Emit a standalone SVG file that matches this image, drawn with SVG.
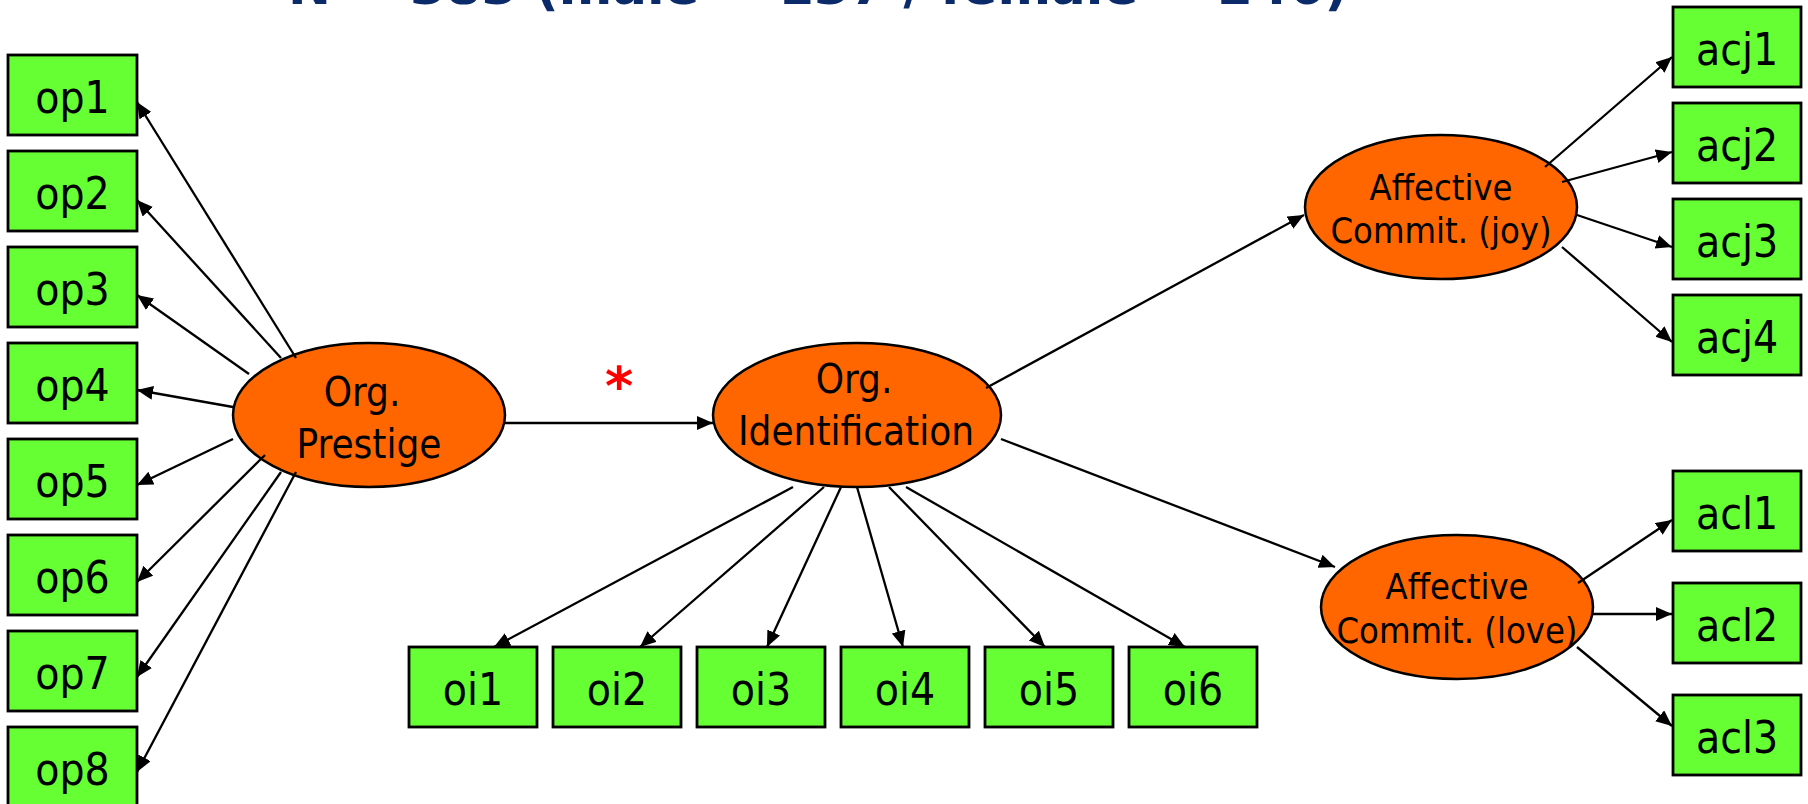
<svg xmlns="http://www.w3.org/2000/svg" width="1808" height="804" viewBox="0 0 1808 804">
<defs>
<style>
.box{fill:#66FF33;stroke:#000;stroke-width:2.8}
.lat{fill:#FF6600;stroke:#000;stroke-width:2.5}
.bt{font-family:"DejaVu Sans Condensed","DejaVu Sans",sans-serif;font-size:44px;fill:#000;text-anchor:middle}
.lt{font-family:"DejaVu Sans Condensed","DejaVu Sans",sans-serif;font-size:40px;fill:#000;text-anchor:middle}
.st{font-family:"DejaVu Sans Condensed","DejaVu Sans",sans-serif;font-size:36px;fill:#000;text-anchor:middle}
.c line{stroke:#000;stroke-width:2.3;marker-end:url(#ah)}
</style>
<marker id="ah" markerUnits="userSpaceOnUse" markerWidth="17" markerHeight="15" refX="16" refY="7" orient="auto">
<path d="M0,0 L16,7 L0,14 z" fill="#000"/>
</marker>
</defs>
<rect width="1808" height="804" fill="#fff"/>
<text x="288" y="4" font-family="DejaVu Sans,sans-serif" font-weight="bold" font-size="51" fill="#0B2A6A" textLength="1060" lengthAdjust="spacingAndGlyphs">N = 383 (male = 137 / female = 246)</text>

<g id="op1"><rect class="box" x="8" y="55" width="129" height="80"/><text class="bt" x="72.5" y="113">op1</text></g>
<g id="op2"><rect class="box" x="8" y="151" width="129" height="80"/><text class="bt" x="72.5" y="209">op2</text></g>
<g id="op3"><rect class="box" x="8" y="247" width="129" height="80"/><text class="bt" x="72.5" y="305">op3</text></g>
<g id="op4"><rect class="box" x="8" y="343" width="129" height="80"/><text class="bt" x="72.5" y="401">op4</text></g>
<g id="op5"><rect class="box" x="8" y="439" width="129" height="80"/><text class="bt" x="72.5" y="497">op5</text></g>
<g id="op6"><rect class="box" x="8" y="535" width="129" height="80"/><text class="bt" x="72.5" y="593">op6</text></g>
<g id="op7"><rect class="box" x="8" y="631" width="129" height="80"/><text class="bt" x="72.5" y="689">op7</text></g>
<g id="op8"><rect class="box" x="8" y="727" width="129" height="80"/><text class="bt" x="72.5" y="785">op8</text></g>

<g id="oi1"><rect class="box" x="409" y="647" width="128" height="80"/><text class="bt" x="473" y="705">oi1</text></g>
<g id="oi2"><rect class="box" x="553" y="647" width="128" height="80"/><text class="bt" x="617" y="705">oi2</text></g>
<g id="oi3"><rect class="box" x="697" y="647" width="128" height="80"/><text class="bt" x="761" y="705">oi3</text></g>
<g id="oi4"><rect class="box" x="841" y="647" width="128" height="80"/><text class="bt" x="905" y="705">oi4</text></g>
<g id="oi5"><rect class="box" x="985" y="647" width="128" height="80"/><text class="bt" x="1049" y="705">oi5</text></g>
<g id="oi6"><rect class="box" x="1129" y="647" width="128" height="80"/><text class="bt" x="1193" y="705">oi6</text></g>

<g id="acj1"><rect class="box" x="1673" y="7" width="128" height="80"/><text class="bt" x="1737" y="65">acj1</text></g>
<g id="acj2"><rect class="box" x="1673" y="103" width="128" height="80"/><text class="bt" x="1737" y="161">acj2</text></g>
<g id="acj3"><rect class="box" x="1673" y="199" width="128" height="80"/><text class="bt" x="1737" y="257">acj3</text></g>
<g id="acj4"><rect class="box" x="1673" y="295" width="128" height="80"/><text class="bt" x="1737" y="353">acj4</text></g>

<g id="acl1"><rect class="box" x="1673" y="471" width="128" height="80"/><text class="bt" x="1737" y="529">acl1</text></g>
<g id="acl2"><rect class="box" x="1673" y="583" width="128" height="80"/><text class="bt" x="1737" y="641">acl2</text></g>
<g id="acl3"><rect class="box" x="1673" y="695" width="128" height="80"/><text class="bt" x="1737" y="753">acl3</text></g>

<g id="prestige"><ellipse class="lat" cx="369" cy="415" rx="136" ry="72"/><text class="lt" x="362" y="406">Org.</text><text class="lt" x="369" y="458">Prestige</text></g>
<g id="identification"><ellipse class="lat" cx="857" cy="415" rx="144" ry="72"/><text class="lt" x="854" y="393">Org.</text><text class="lt" x="856" y="445">Identification</text></g>
<g id="acjoy"><ellipse class="lat" cx="1441" cy="207" rx="136" ry="72"/><text class="st" x="1441" y="200">Affective</text><text class="st" x="1441" y="243">Commit. (joy)</text></g>
<g id="aclove"><ellipse class="lat" cx="1457" cy="607" rx="136" ry="72"/><text class="st" x="1457" y="599">Affective</text><text class="st" x="1457" y="643">Commit. (love)</text></g>

<text x="619" y="405" font-family="DejaVu Sans,sans-serif" font-weight="bold" font-size="54" fill="#FF0000" text-anchor="middle">*</text>

<g id="connectors" class="c">
<line x1="296" y1="358" x2="137" y2="102"/>
<line x1="281" y1="358" x2="137" y2="200"/>
<line x1="249" y1="374" x2="137" y2="295"/>
<line x1="233" y1="407" x2="137" y2="390"/>
<line x1="233" y1="439" x2="137" y2="485"/>
<line x1="265" y1="455" x2="137" y2="582"/>
<line x1="281" y1="472" x2="137" y2="677"/>
<line x1="296" y1="472" x2="137" y2="772"/>
<line x1="505" y1="423" x2="713" y2="423"/>
<line x1="793" y1="487" x2="494" y2="647"/>
<line x1="824" y1="487" x2="640" y2="647"/>
<line x1="841" y1="487" x2="767" y2="647"/>
<line x1="857" y1="487" x2="903" y2="647"/>
<line x1="889" y1="487" x2="1045" y2="647"/>
<line x1="906" y1="487" x2="1185" y2="647"/>
<line x1="986" y1="388" x2="1304" y2="215"/>
<line x1="1001" y1="439" x2="1335" y2="567"/>
<line x1="1545" y1="167" x2="1672" y2="57"/>
<line x1="1562" y1="182" x2="1672" y2="152"/>
<line x1="1577" y1="215" x2="1672" y2="247"/>
<line x1="1562" y1="247" x2="1672" y2="342"/>
<line x1="1578" y1="583" x2="1672" y2="520"/>
<line x1="1592" y1="614" x2="1672" y2="614"/>
<line x1="1577" y1="647" x2="1672" y2="726"/>
</g>
</svg>
